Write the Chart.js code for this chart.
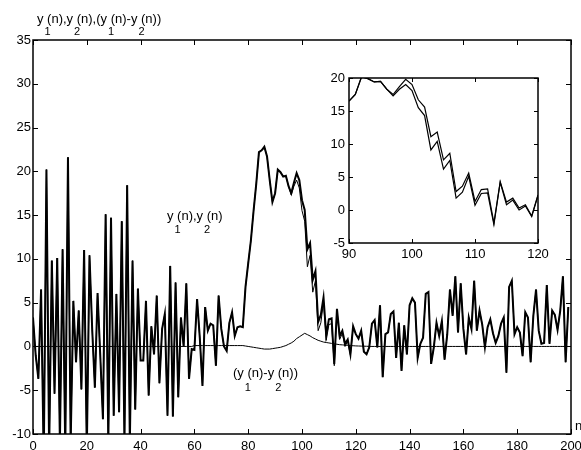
<!DOCTYPE html>
<html lang="en">
<head>
<meta charset="UTF-8" />
<title>y1(n), y2(n) et (y1(n)-y2(n))</title>
<style>
  body { margin: 0; background: #fff; }
  #wrap { position: relative; width: 581px; height: 450px; overflow: hidden; background: #fff; }
  #mainChart { position: absolute; left: 0; top: 0; }
  #insetChart { position: absolute; left: 300px; top: 60px; }
</style>
</head>
<body>
<div id="wrap">
  <canvas id="mainChart" width="581" height="450"></canvas>
  <canvas id="insetChart" width="250" height="200"></canvas>
</div>

<script src="https://cdn.jsdelivr.net/npm/chart.js"></script>
<script>
// y1(n) (index 0..199)
const y1 = [
  3.3, -1, -3.7, 6.5, -13, 20.2, -12, 9.8, -5.4, 10.1, -11, 11.1, -12, 21.6, -11, 5.2, -1.8, 4.1, -4.9, 11,
  -12, 10.4, 2, -4.7, 6.1, -1, -8.3, 15.1, -11, 14.7, -7.9, 6, -7.5, 14.3, -11, 18.4, -11, 9.8, -7.2, 6.6,
  -1.6, -1.6, 5.2, -5.6, 2.3, -0.9, 5.8, -4.2, 2, 3.7, -7.9, 9.2, -8, 7.3, -5.8, 3.3, 0, 7.2, -3.7, -0.3,
  -0.4, 5.4, 1, -4.5, 4.5, 1.8, 2.6, 2.4, -2.2, 5.8, 2, 0, -0.5, 2.7, 3.9, 1.2, 2.2, 2.3, 2.2, 6.8,
  9.5, 12.1, 15.5, 18.6, 22.2, 22.4, 22.8, 21.7, 19, 16.5, 17.5, 20.2, 19.9, 19.4, 19.5, 18.3, 17.5, 18.7, 19.8, 19,
  16.7, 15.6, 11.1, 11.8, 7.6, 8.6, 2.8, 3.6, 5.6, 1.3, 3.1, 3.2, -2, 4.3, 1.2, 1.8, 0.3, 0.8, -0.9, 2.3,
  1.4, 0.9, 1.8, -0.6, -0.9, -0.1, 2.6, 3, -0.1, 4.7, -3.5, 1.4, 1.6, 3.7, 4, -1.3, 2.7, -2.8, 2.4, -0.9,
  4.7, 5.5, 5, -1.3, 0.3, 1, 6, 6.2, -2, -0.1, 2.7, 1.2, 2.9, -1.5, 1.4, 6.5, 3.5, 8, 1.6, 7.2,
  2, -0.9, 3.3, 2, 7.5, 1.8, 4.1, 2.5, -0.1, 2.2, 3.1, 1.5, 0.4, 1.2, 2.6, 3.3, -3, 6.8, 7.5, 1.4,
  2.2, 1.6, -1.1, 3.9, 3.3, -1.8, 3.5, 6.5, 1.8, 0.3, 0.4, 7, 0.3, 4.1, 3.6, 1.9, 4.1, 8, -1.8, 4.5
];

// y2(n) only differs from y1(n) around the peak (read from the zoomed box)
const y2PeakStart = 89;
const y2Peak = [
  16.5, 17.5, 20.2, 19.9, 19.4, 19.5, 18.3, 17.3, 18.3, 19,
  18.1, 15.5, 14.3, 9.1, 10.4, 6.2, 7.5, 1.8, 2.7, 5.1,
  0.7, 2.5, 2.6, -2.2, 4.2, 0.8, 1.5, 0, 0.6, -1, 2.2
];

// (y1(n)-y2(n)) thin curve near zero
const diff = [
  0, 0, 0, 0, 0, 0, 0, 0, 0, 0, 0, 0, 0, 0, 0, 0, 0, 0, 0, 0,
  0, 0, 0, 0, 0, 0, 0, 0, 0, 0, 0, 0, 0, 0, 0, 0, 0, 0, 0, 0,
  0, 0, 0, 0, 0, 0, 0, 0, 0, 0, 0, 0, 0, 0, 0, 0, 0, 0, 0, 0,
  0.1, 0.1, 0.1, 0.1, 0.1, 0.1, 0.1, 0.1, 0.1, 0.1, 0.1, 0.1, 0.1, 0.1, 0.1, 0.1, 0.1, 0.1, 0.1, 0.05,
  0, -0.05, -0.1, -0.15, -0.2, -0.25, -0.3, -0.3, -0.3, -0.25, -0.2, -0.15, -0.1, 0, 0.1, 0.25, 0.4, 0.6, 0.9, 1.1,
  1.3, 1.5, 1.35, 1.2, 1, 0.85, 0.7, 0.6, 0.5, 0.45, 0.4, 0.35, 0.3, 0.25, 0.2, 0.18, 0.15, 0.12, 0.1, 0.08,
  0.06, 0.05, 0.04, 0.03, 0.02, 0.01, 0, 0, 0, 0, 0, 0, 0, 0, 0, 0, 0, 0, 0, 0,
  0, 0, 0, 0, 0, 0, 0, 0, 0, 0, 0, 0, 0, 0, 0, 0, 0, 0, 0, 0,
  0, 0, 0, 0, 0, 0, 0, 0, 0, 0, 0, 0, 0, 0, 0, 0, 0, 0, 0, 0,
  0, 0, 0, 0, 0, 0, 0, 0, 0, 0, 0, 0, 0, 0, 0, 0, 0, 0, 0, 0
];

// axis ranges
const mainX = { min: 0, max: 200, step: 20 };
const mainY = { min: -10, max: 35, step: 5 };
const insetX = { min: 90, max: 120, step: 10 };
const insetY = { min: -5, max: 20, step: 5 };
// zoom box shows samples 89..119 labelled 90..120
const insetFrom = 89, insetTo = 120;

const FONT = '"Liberation Sans", Arial, Helvetica, sans-serif';

const y2 = y1.map((v, i) =>
  i >= y2PeakStart && i < y2PeakStart + y2Peak.length ? y2Peak[i - y2PeakStart] : v);
const toPts = (arr, x0) => arr.map((v, i) => ({ x: x0 + i, y: v }));

// frame + inward ticks on all four sides (matlab look)
const boxPlugin = {
  id: 'box',
  afterDraw(chart, args, opts) {
    const { ctx, chartArea: a, scales } = chart;
    const len = opts.tick;
    ctx.save();
    ctx.strokeStyle = '#000';
    ctx.lineWidth = 1;
    ctx.beginPath();
    scales.x.ticks.forEach(t => {
      const px = Math.round(scales.x.getPixelForValue(t.value)) + 0.5;
      ctx.moveTo(px, a.bottom); ctx.lineTo(px, a.bottom - len);
      ctx.moveTo(px, a.top); ctx.lineTo(px, a.top + len);
    });
    scales.y.ticks.forEach(t => {
      const py = Math.round(scales.y.getPixelForValue(t.value)) + 0.5;
      ctx.moveTo(a.left, py); ctx.lineTo(a.left + len, py);
      ctx.moveTo(a.right, py); ctx.lineTo(a.right - len, py);
    });
    ctx.stroke();
    ctx.lineWidth = opts.width;
    ctx.strokeRect(a.left, a.top, a.right - a.left, a.bottom - a.top);
    ctx.restore();
  }
};

// text with subscript digits: "y{1} (n)" -> digit drawn lower, right after the y
function drawSubText(ctx, str, x, y, dy) {
  const parts = str.split(/\{(\d)\}/);
  let plain = '';
  const subs = [];
  parts.forEach((p, k) => {
    if (k % 2 === 0) plain += p;
    else subs.push([plain, p]);
  });
  ctx.font = '13px ' + FONT;
  ctx.textAlign = 'left';
  ctx.textBaseline = 'alphabetic';
  ctx.fillText(plain, x, y);
  subs.forEach(([prefix, d]) => {
    ctx.font = '13px ' + FONT;
    const w = ctx.measureText(prefix).width;
    ctx.font = '11px ' + FONT;
    ctx.fillText(d, x + w + 1, y + dy);
  });
}

const labelPlugin = {
  id: 'labels',
  afterDraw(chart) {
    const ctx = chart.ctx;
    ctx.save();
    ctx.fillStyle = '#000';
    drawSubText(ctx, 'y{1} (n),y{2} (n),(y{1} (n)-y{2} (n))', 37, 23, 12);
    drawSubText(ctx, 'y{1} (n),y{2} (n)', 167, 220, 13);
    drawSubText(ctx, '(y{1} (n)-y{2} (n))', 233, 377, 14);
    ctx.font = '13px ' + FONT;
    ctx.fillText('n', 575, 430);
    ctx.restore();
  }
};

function axisOpts(r, pad, fit) {
  return {
    type: 'linear', min: r.min, max: r.max,
    grid: { display: false, drawTicks: false },
    border: { display: false },
    ticks: {
      stepSize: r.step, autoSkip: false, maxRotation: 0, padding: pad,
      color: '#000', font: { family: FONT, size: 13 }
    },
    afterFit: fit
  };
}

new Chart(document.getElementById('mainChart').getContext('2d'), {
  type: 'line',
  data: {
    datasets: [
      { data: toPts(y1, 0), borderColor: '#000', borderWidth: 2, order: 1 },
      { data: toPts(y2, 0), borderColor: '#000', borderWidth: 1, order: 2 },
      { data: toPts(diff, 0), borderColor: '#000', borderWidth: 1, order: 3 }
    ]
  },
  options: {
    responsive: false,
    animation: false,
    layout: { padding: { top: 40, right: 10, left: 0, bottom: 0 } },
    elements: { point: { radius: 0 }, line: { tension: 0 } },
    plugins: { legend: { display: false }, tooltip: { enabled: false }, box: { tick: 5, width: 1.5 } },
    scales: {
      x: axisOpts(mainX, 5, s => { s.height = 16; s.paddingLeft = 0; s.paddingRight = 0; }),
      y: axisOpts(mainY, 2, s => { s.width = 33; s.paddingTop = 0; s.paddingBottom = 0; })
    }
  },
  plugins: [boxPlugin, labelPlugin]
});

new Chart(document.getElementById('insetChart').getContext('2d'), {
  type: 'line',
  data: {
    datasets: [
      { data: toPts(y1.slice(insetFrom, insetTo), insetX.min), borderColor: '#000', borderWidth: 1.2 },
      { data: toPts(y2.slice(insetFrom, insetTo), insetX.min), borderColor: '#000', borderWidth: 1.2 }
    ]
  },
  options: {
    responsive: false,
    animation: false,
    layout: { padding: { top: 18, right: 12, left: 0, bottom: 0 } },
    elements: { point: { radius: 0 }, line: { tension: 0 } },
    plugins: { legend: { display: false }, tooltip: { enabled: false }, box: { tick: 4, width: 1.5 } },
    scales: {
      x: axisOpts(insetX, 4, s => { s.height = 17; s.paddingLeft = 0; s.paddingRight = 0; }),
      y: axisOpts(insetY, 4, s => { s.width = 49; s.paddingTop = 0; s.paddingBottom = 0; })
    }
  },
  plugins: [boxPlugin]
});
</script>
</body>
</html>
